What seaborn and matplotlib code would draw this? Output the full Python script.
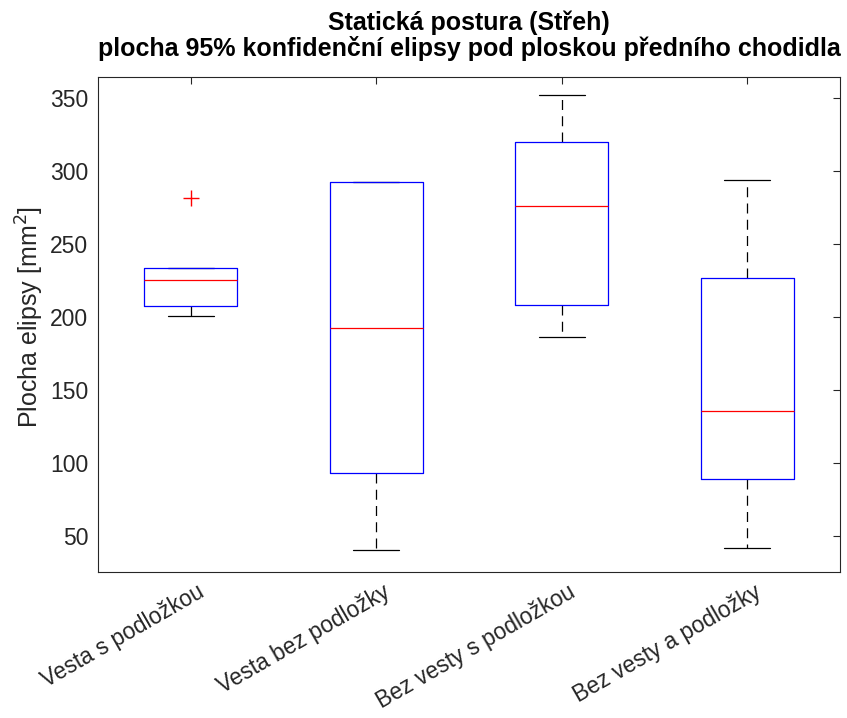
import numpy as np
import pandas as pd
import matplotlib
matplotlib.use("Agg")
import matplotlib.pyplot as plt
import matplotlib.transforms as mtransforms
import seaborn as sns

# Measured ellipse areas [mm^2] for each stance condition
categories = ["Vesta s podložkou", "Vesta bez podložky",
              "Bez vesty s podložkou", "Bez vesty a podložky"]
vesta_s_podlozkou = [200.7, 207.5, 225.3, 233.6, 281.5]
vesta_bez_podlozky = [40.4, 93.2, 192.5, 292.5, 292.5]
bez_vesty_s_podlozkou = [186.3, 208.2, 276.0, 319.6, 352.0]
bez_vesty_a_podlozky = [42.0, 89.0, 135.6, 226.9, 294.0]

series = [vesta_s_podlozkou, vesta_bez_podlozky,
          bez_vesty_s_podlozkou, bez_vesty_a_podlozky]
df = pd.DataFrame({
    "skupina": np.repeat(categories, [len(s) for s in series]),
    "plocha": np.concatenate(series),
})

sns.set_style("white")
plt.rcParams["font.family"] = ["Liberation Sans", "DejaVu Sans"]
axis_col = "#262626"

fig = plt.figure(figsize=(8.47, 7.18), dpi=100)
ax = fig.add_axes([98 / 847, 1 - 572 / 718, (840 - 98) / 847, (572 - 77) / 718])

lw = 0.9
sns.boxplot(
    data=df, x="skupina", y="plocha", order=categories, ax=ax,
    width=0.5, whis=1.5, fill=False, linewidth=lw,
    boxprops=dict(color="blue", linewidth=lw, zorder=4),
    medianprops=dict(color="red", linewidth=lw, zorder=5),
    whiskerprops=dict(color="black", linewidth=lw, linestyle=(0, (8, 5)),
                      zorder=2),
    capprops=dict(color="black", linewidth=lw, zorder=2),
    flierprops=dict(marker="+", markeredgecolor="red", markersize=11,
                    markeredgewidth=1.0, linestyle="none"),
)

ax.set_xlim(-0.5, 3.5)
ax.set_ylim(25.3, 364.4)
ax.set_yticks([50, 100, 150, 200, 250, 300, 350])

for sp in ax.spines.values():
    sp.set_visible(True)
    sp.set_color(axis_col)
    sp.set_linewidth(0.8)

ax.tick_params(axis="both", direction="in", length=5, width=0.8,
               color=axis_col, labelcolor=axis_col,
               top=True, right=True)
ax.tick_params(axis="y", labelsize=16.5, pad=7)
ax.tick_params(axis="x", labelsize=16.3, pad=9)

ax.set_xlabel("")
ax.set_ylabel("Plocha elipsy [mm$^2$]", fontsize=18, color=axis_col)
ax.yaxis.set_label_coords(-(98 - 46) / 742, 0.516)

# rotated category labels, nudged right/down from the tick
shift = mtransforms.ScaledTranslation(12 / 100, -6 / 100, fig.dpi_scale_trans)
for lab in ax.get_xticklabels():
    lab.set_rotation(30)
    lab.set_ha("right")
    lab.set_va("center")
    lab.set_rotation_mode("anchor")
    lab.set_transform(lab.get_transform() + shift)

ax.set_title("Statická postura (Střeh)\n"
             "plocha 95% konfidenční elipsy pod ploskou předního chodidla",
             fontsize=18, fontweight="bold", color="black", pad=15,
             linespacing=1.05)

fig.savefig("out.png", dpi=100, facecolor="white")
